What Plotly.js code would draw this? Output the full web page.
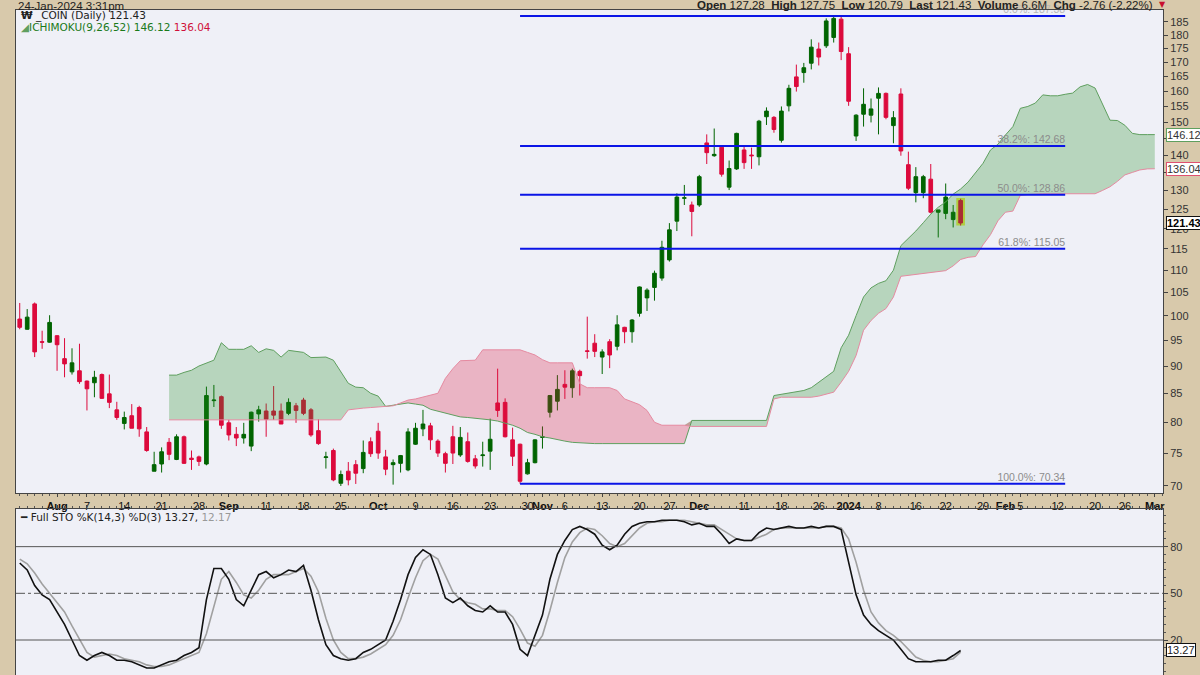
<!DOCTYPE html>
<html><head><meta charset="utf-8">
<script src="https://cdn.plot.ly/plotly-3.0.1.min.js"></script>
<style>html,body{margin:0;padding:0;background:#d8c9ab;} #chart{width:1200px;height:675px;}</style>
</head><body><div id="chart"></div>
<script>
// ---- Daily OHLC, _COIN, trading day index 0 = 25-Jul-2023 ... 126 = 24-Jan-2024
const openP = [99.3,97.2,102.5,94.7,94.6,95.9,91.4,88.9,89.1,87.2,86.9,88.4,84.9,82.1,79.8,81.1,82.5,78.4,72.2,73.3,
76.7,74.0,77.6,74.2,74.4,73.3,83.7,84.4,79.9,78.0,77.4,76.1,81.4,81.9,81.9,81.9,81.5,82.8,83.8,82.1,
78.6,74.3,75.4,70.4,72.2,73.2,72.6,76.8,78.5,74.4,73.2,73.4,72.4,76.4,78.9,79.4,76.9,74.9,77.6,74.7,
76.8,74.1,74.6,75.3,83.3,83.4,77.1,76.4,71.8,73.5,77.5,81.7,83.6,86.6,86.0,89.0,92.9,94.4,91.7,94.7,
93.8,97.6,96.7,100.5,103.8,106.1,108.2,112.4,121.9,127.9,126.1,126.1,143.6,139.8,142.3,130.9,136.0,141.5,140.0,139.5,
151.7,151.5,144.4,155.2,164.9,166.4,169.7,174.8,176.0,179.1,186.1,173.1,145.7,152.5,152.2,157.7,159.3,148.9,159.1,137.2,
129.4,129.4,133.1,124.2,123.9,122.3,127.28];
const highP = [102.7,101.4,102.8,96.9,100.1,96.0,95.4,93.4,94.3,87.3,89.1,88.6,88.4,83.5,81.8,83.1,82.8,79.2,75.2,75.9,
77.4,78.0,77.8,75.4,74.6,86.2,86.5,84.6,80.4,79.2,79.9,81.8,82.8,83.2,86.3,83.2,84.1,83.3,84.2,82.4,
80.5,75.2,75.7,72.3,73.6,73.9,77.0,77.5,79.9,75.5,74.0,74.7,79.0,79.9,82.1,79.9,77.2,75.2,79.4,79.2,
78.3,74.7,76.8,80.6,89.5,84.1,79.1,76.5,74.1,77.2,79.3,84.7,88.3,89.2,89.5,89.3,99.8,96.2,93.2,95.2,
100.1,97.7,99.3,106.3,105.9,109.9,117.0,121.4,129.2,131.5,127.0,134.3,146.2,148.0,142.6,138.4,146.7,142.8,142.2,150.7,
154.7,151.9,155.0,162.2,169.2,169.8,178.4,177.2,186.4,187.3,187.38,175.5,152.5,161.0,157.6,161.3,159.6,153.5,161.0,141.0,
136.5,134.3,137.4,124.8,131.9,126.1,127.75];
const lowP = [97.2,97.1,91.7,93.3,94.5,89.1,87.9,88.4,86.7,82.0,84.3,84.0,82.4,80.4,78.8,79.0,77.6,75.2,72.2,72.0,
73.9,73.9,73.3,72.4,73.0,73.1,82.6,78.9,77.0,76.1,76.5,75.3,80.1,77.6,80.4,79.7,81.2,79.9,81.2,77.6,
76.3,72.6,70.7,70.0,70.1,70.3,71.9,74.4,74.1,71.6,70.2,72.0,72.2,76.3,77.7,75.5,74.4,72.0,73.3,74.4,
73.5,72.6,72.9,72.4,80.9,77.5,73.0,70.34,71.7,73.4,75.7,80.8,82.0,84.0,84.2,84.6,91.4,91.7,88.5,89.6,
93.0,94.4,94.5,99.8,101.0,103.2,107.6,112.0,119.4,126.1,118.1,125.6,137.4,139.5,133.8,130.1,135.7,136.0,136.0,137.0,
149.1,146.7,143.7,153.4,159.9,162.9,167.5,168.9,175.2,177.2,170.8,155.2,144.2,148.6,149.9,146.2,150.9,143.5,139.8,130.1,
126.8,127.9,123.9,117.8,122.4,120.3,120.79];
const closeP = [97.6,99.7,92.7,94.6,98.6,94.1,90.4,90.6,87.1,85.8,87.9,84.1,83.4,80.8,80.8,79.0,78.9,75.4,73.2,75.2,
74.8,77.6,73.4,74.0,73.7,84.6,83.8,79.5,77.9,77.4,78.0,81.7,82.1,80.5,81.2,79.7,83.4,82.0,81.5,77.9,
76.5,74.4,70.9,71.7,70.9,71.9,75.1,74.9,75.0,72.5,73.5,74.6,78.4,79.0,79.7,77.1,75.0,73.4,75.0,77.5,
73.7,73.0,74.7,77.2,82.0,77.6,74.5,70.7,73.5,77.1,77.6,84.6,85.7,86.1,89.1,88.2,92.8,92.8,92.7,92.1,
98.1,96.7,99.1,106.2,105.5,109.3,115.4,119.7,128.2,128.0,124.4,133.8,140.7,140.2,134.5,136.1,146.5,137.8,139.8,150.3,
153.5,147.7,153.5,161.0,161.6,168.1,175.5,171.9,185.4,186.4,173.9,156.7,152.2,155.7,154.2,159.3,151.5,151.4,141.2,130.6,
133.8,133.8,124.2,124.8,128.2,124.19,121.43];

// ---- Ichimoku cloud (9,26,52): Senkou spans, index 20 ... 152 (projected 26 days ahead)
const cloudStartIdx = 20;
const senkouA = [88.3,88.3,88.8,89.2,90.0,90.5,91.1,94.5,93.2,93.2,93.2,93.9,92.6,93.3,93.0,91.7,93.0,92.8,92.6,91.6,
91.6,91.7,91.1,88.9,86.8,86.1,86.0,85.0,84.5,82.7,82.9,83.2,83.3,83.1,82.9,82.2,81.9,81.5,81.2,80.9,
80.8,80.7,80.6,80.4,80.2,79.9,79.5,79.0,78.3,78.0,77.6,77.4,77.1,76.9,76.7,76.6,76.5,76.5,76.5,76.5,
76.5,76.5,76.5,76.5,76.5,76.5,76.5,76.5,76.5,76.5,80.3,80.3,80.3,80.3,80.3,80.3,80.3,80.3,80.3,80.3,
80.3,84.6,84.8,85.0,85.2,85.5,86.0,87.0,88.0,89.0,93.5,96.0,100.0,104.0,106.0,107.0,107.6,110.0,115.8,117.5,
119.4,121.5,123.7,125.5,126.9,129.0,130.4,132.3,134.8,137.6,141.5,143.2,146.0,148.6,154.4,155.0,156.1,158.8,158.5,158.5,
159.0,159.4,161.5,162.3,161.1,156.0,150.6,150.5,149.0,146.5,146.12,146.12,146.12];
const senkouB = [80.4,80.4,80.4,80.4,80.4,80.4,80.4,80.4,80.4,80.4,80.4,80.4,80.4,80.4,80.4,80.4,80.4,80.4,80.4,80.4,
80.4,80.4,80.4,80.4,82.1,82.3,82.4,82.5,82.6,82.6,82.8,83.3,83.8,84.0,84.3,84.7,85.0,87.7,89.5,91.0,
91.1,91.1,93.1,93.1,93.1,93.1,93.1,93.1,92.6,92.1,91.2,90.6,90.6,90.6,90.6,86.7,86.0,86.0,86.0,86.0,
85.5,84.0,83.5,83.0,82.0,80.0,79.5,79.5,79.5,79.5,79.3,79.3,79.3,79.3,79.3,79.3,79.3,79.3,79.3,79.3,
79.3,84.0,84.3,84.3,84.3,84.3,84.3,84.5,84.8,85.2,87.0,89.0,92.0,97.0,99.0,100.5,101.5,104.0,108.6,108.8,
109.0,109.2,109.5,109.7,109.9,111.0,112.5,113.0,113.2,116.0,118.5,122.0,124.2,124.5,128.7,128.9,129.1,129.1,129.1,129.1,
129.1,129.1,129.1,129.1,129.1,130.0,131.0,132.5,134.3,135.0,135.7,136.0,136.04];

// ---- Full Stochastics %K(14,3) %D(3)
const stochK = [69.5,65,55,49,46,38,30,20,10,7,10,12,10,7,7,6,4,2,2,4,
6,7,10,12,15,46,66,66,59,46,42,52,62,64,60,62,65,64,68,52,
33,17,10,8,7,8,12,14,17,20,32,46,62,73,78,75,62,47,44,47,
42,39,38,42,38,38,30,14,10,23,36,59,75,84,91,93,91,88,81,78,
81,88,93,95,96,96,97,97,97,96,94,95,93,93,88,82,85,84,84,89,
92,91,92,93,92,92,93,92,93,93,91,71,49,36,30,26,23,20,14,8,
6,6,6,7,7,10,13.27];
const stochD = [72,69,63,56,50,44,38,29,20,12,9,10,11,10,8,7,6,4,3,3,
4,6,8,10,12,24,42,59,64,57,49,47,52,59,62,62,62,64,66,61,
51,34,20,12,8,8,9,11,14,17,23,33,47,60,71,75,72,61,51,46,
44,43,40,40,39,39,35,27,18,16,23,39,57,73,83,89,92,91,87,82,
80,82,87,92,95,96,96,97,97,97,96,95,94,94,91,88,85,84,84,86,
88,91,92,92,92,92,92,92,93,93,92,85,70,52,38,31,26,23,19,14,
9,7,6,6,7,8,12.17];

// ---- Fibonacci retracement (drawn from 27-Oct-2023 low to 28-Dec-2023 high)
const fibLevels = [187.38,142.68,128.86,115.05,70.34];
const fibLabels = ['0.0%: 187.38','38.2%: 142.68','50.0%: 128.86','61.8%: 115.05','100.0%: 70.34'];
const fibFromIdx = 67, fibToIdx = 140;

// ---- axis ticks
const dateTickIdx = [5,9,14,19,24,28,33,38,43,48,53,58,63,68,70,73,78,83,87,91,97,102,107,111,115,120,124,129,132,134,139,144,148,152];
const dateTickText = ['<b>Aug</b>','7','14','21','28','<b>Sep</b>','11','18','25','<b>Oct</b>','9','16','23','30','<b>Nov</b>','6','13','20','27','<b>Dec</b>','11','18','26','<b>2024</b>','8','16','22','29','<b>Feb</b>','5','12','20','26','<b>Mar</b>'];
const priceTicks = [70,75,80,85,90,95,100,105,110,115,120,125,130,135,140,145,150,155,160,165,170,175,180,185];
const stochTicks = [20,50,80];

// ================= build =================
const idx = openP.map((_, i) => i);
const cx = senkouA.map((_, i) => cloudStartIdx + i);
const cloudTop = senkouA.map((a, i) => Math.max(a, senkouB[i]));
const last = idx.length - 1;

const GREEN = '#006400', RED = '#dc0a3c';
const FONT = 'Liberation Sans, Arial, sans-serif';

const traces = [
  {type:'candlestick', x:[last], open:[openP[last]], high:[highP[last]], low:[lowP[last]], close:[closeP[last]],
   increasing:{line:{color:'#e6e64a', width:5}, fillcolor:'#e6e64a'},
   decreasing:{line:{color:'#e6e64a', width:5}, fillcolor:'#e6e64a'}, hoverinfo:'skip', xaxis:'x', yaxis:'y'},
  {type:'candlestick', x:idx, open:openP, high:highP, low:lowP, close:closeP,
   increasing:{line:{color:GREEN, width:1}, fillcolor:GREEN},
   decreasing:{line:{color:RED, width:1}, fillcolor:RED},
   whiskerwidth:0, xaxis:'x', yaxis:'y'},
  {x:cx, y:senkouB, mode:'lines', line:{width:0}, hoverinfo:'skip', xaxis:'x', yaxis:'y'},
  {x:cx, y:cloudTop, mode:'lines', line:{width:0}, fill:'tonexty', fillcolor:'rgba(34,139,34,0.27)', hoverinfo:'skip', xaxis:'x', yaxis:'y'},
  {x:cx, y:senkouA, mode:'lines', line:{width:0}, hoverinfo:'skip', xaxis:'x', yaxis:'y'},
  {x:cx, y:cloudTop, mode:'lines', line:{width:0}, fill:'tonexty', fillcolor:'rgba(220,20,60,0.27)', hoverinfo:'skip', xaxis:'x', yaxis:'y'},
  {x:cx, y:senkouA, mode:'lines', line:{color:'#5f9f5f', width:1}, xaxis:'x', yaxis:'y'},
  {x:cx, y:senkouB, mode:'lines', line:{color:'#e58aa0', width:1}, xaxis:'x', yaxis:'y'}
];
fibLevels.forEach((lv, i) => {
  traces.push({x:[fibFromIdx, fibToIdx], y:[lv, lv], mode:'lines', line:{color:'#0a14e6', width:2}, xaxis:'x', yaxis:'y', hoverinfo:'skip'});
  traces.push({x:[fibToIdx], y:[lv], mode:'text', text:[fibLabels[i]], textposition:'top left', cliponaxis:false,
    textfont:{family:FONT, size:10.5, color: i === 0 ? '#b8b8b8' : '#8c8c8c'}, xaxis:'x', yaxis:'y', hoverinfo:'skip'});
});
traces.push({x:idx, y:stochD, mode:'lines', line:{color:'#a0a0a0', width:1.6}, xaxis:'x2', yaxis:'y2'});
traces.push({x:idx, y:stochK, mode:'lines', line:{color:'#111', width:1.6}, xaxis:'x2', yaxis:'y2'});

const px = X => (X - 16) / 1147;
const py = Y => (675 - Y) / 665;

const axisCommon = {showgrid:false, zeroline:false, showline:true, mirror:true, linecolor:'#444', linewidth:1};

const layout = {
  width:1200, height:675,
  margin:{l:16, r:37, t:10, b:0, autoexpand:false},
  paper_bgcolor:'#d8c9ab', plot_bgcolor:'#eff0f7',
  showlegend:false, hovermode:false,
  font:{family:FONT, color:'#222'},
  xaxis: Object.assign({}, axisCommon, {
    domain:[0,1], anchor:'y', range:[-0.5,153.1], rangeslider:{visible:false},
    tickmode:'array', tickvals:dateTickIdx, ticktext:dateTickText, tickangle:0,
    ticks:'outside', ticklen:3, tickcolor:'#444',
    minor:{tickmode:'linear', tick0:0, dtick:1, ticks:'outside', ticklen:2, tickcolor:'#555'},
    tickfont:{family:FONT, size:11, color:'#111'}, automargin:false
  }),
  yaxis: Object.assign({}, axisCommon, {
    domain:[py(493), 1], anchor:'x', type:'log', side:'right',
    range:[Math.log10(68.98), Math.log10(189.7)],
    tickmode:'array', tickvals:priceTicks, ticktext:priceTicks.map(String),
    ticks:'outside', ticklen:4, tickcolor:'#444',
    tickfont:{family:FONT, size:11, color:'#333'}, automargin:false
  }),
  xaxis2: Object.assign({}, axisCommon, {
    domain:[0,1], anchor:'y2', range:[-0.5,153.1], side:'top', showticklabels:false,
    tickmode:'array', tickvals:dateTickIdx, ticks:'outside', ticklen:3, tickcolor:'#444',
    minor:{tickmode:'linear', tick0:0, dtick:1, ticks:'outside', ticklen:2, tickcolor:'#555'}
  }),
  yaxis2: Object.assign({}, axisCommon, {
    domain:[0, py(509)], anchor:'x2', side:'right', range:[-2.5, 104.2],
    tickmode:'array', tickvals:stochTicks, ticks:'outside', ticklen:4, tickcolor:'#444',
    minor:{tickmode:'linear', tick0:0, dtick:5, ticks:'outside', ticklen:2, tickcolor:'#555'},
    tickfont:{family:FONT, size:11, color:'#333'}, automargin:false
  }),
  shapes: [
    {type:'line', xref:'paper', x0:0, x1:1, yref:'y2', y0:80, y1:80, line:{color:'#555', width:1}},
    {type:'line', xref:'paper', x0:0, x1:1, yref:'y2', y0:50, y1:50, line:{color:'#555', width:1, dash:'dashdot'}},
    {type:'line', xref:'paper', x0:0, x1:1, yref:'y2', y0:20, y1:20, line:{color:'#555', width:1}}
  ],
  annotations: [
    {xref:'paper', yref:'paper', x:px(16), y:py(5.5), xanchor:'left', yanchor:'middle', showarrow:false,
     text:'24-Jan-2024 3:31pm', font:{family:FONT, size:11.5, color:'#222'}},
    {xref:'paper', yref:'paper', x:px(1155), y:py(5), xanchor:'right', yanchor:'middle', showarrow:false,
     text:'<b>Open</b> 127.28  <b>High</b> 127.75  <b>Low</b> 120.79  <b>Last</b> 121.43  <b>Volume</b> 6.6M  <b>Chg</b> -2.76 (-2.22%)',
     font:{family:FONT, size:11.5, color:'#222'}},
    {xref:'paper', yref:'paper', x:px(1157), y:py(5), xanchor:'left', yanchor:'middle', showarrow:false,
     text:'▼', font:{family:'DejaVu Sans', size:8, color:'#c8102e'}},
    {xref:'paper', yref:'paper', x:px(19), y:py(15), xanchor:'left', yanchor:'middle', showarrow:false,
     text:'<b>₩</b> _COIN (Daily) 121.43', font:{family:'DejaVu Sans', size:10.5, color:'#222'}},
    {xref:'paper', yref:'paper', x:px(19), y:py(27), xanchor:'left', yanchor:'middle', showarrow:false,
     text:'<span style="color:#5f9f5f">◢</span><span style="color:#1a7a1a">ICHIMOKU(9,26,52) 146.12</span> <span style="color:#d0103a">136.04</span>',
     font:{family:'DejaVu Sans', size:10.5, color:'#1a7a1a'}},
    {xref:'paper', yref:'paper', x:px(18), y:py(517), xanchor:'left', yanchor:'middle', showarrow:false,
     text:'<b>━</b> Full STO %K(14,3) %D(3) 13.27, <span style="color:#999">12.17</span>',
     font:{family:'DejaVu Sans', size:10.5, color:'#222'}},
    {xref:'paper', yref:'y', x:px(1166), y:Math.log10(146.12), xanchor:'left', yanchor:'middle', showarrow:false,
     text:'146.12', bgcolor:'#ffffff', bordercolor:'#5f9f5f', borderwidth:1, borderpad:0,
     font:{family:FONT, size:11, color:'#333'}},
    {xref:'paper', yref:'y', x:px(1166), y:Math.log10(136.04), xanchor:'left', yanchor:'middle', showarrow:false,
     text:'136.04', bgcolor:'#ffffff', bordercolor:'#e05070', borderwidth:1, borderpad:0,
     font:{family:FONT, size:11, color:'#333'}},
    {xref:'paper', yref:'y', x:px(1166), y:Math.log10(121.43), xanchor:'left', yanchor:'middle', showarrow:false,
     text:'<b>121.43</b>', bgcolor:'#ffffff', bordercolor:'#111', borderwidth:1, borderpad:0,
     font:{family:FONT, size:11, color:'#000'}},
    {xref:'paper', yref:'y2', x:px(1166), y:13.27, xanchor:'left', yanchor:'middle', showarrow:false,
     text:'13.27', bgcolor:'#ffffff', bordercolor:'#111', borderwidth:1, borderpad:0,
     font:{family:FONT, size:11, color:'#222'}}
  ]
};

Plotly.newPlot('chart', traces, layout, {staticPlot:true, displayModeBar:false});
</script>
</body></html>
